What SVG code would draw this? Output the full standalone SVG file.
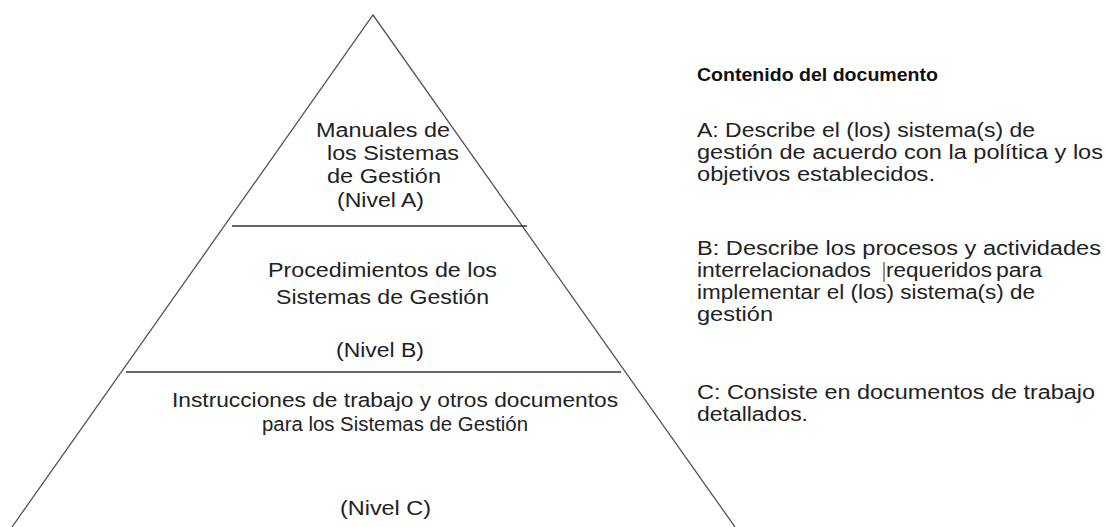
<svg xmlns="http://www.w3.org/2000/svg" width="1106" height="527" viewBox="0 0 1106 527">
<style>
.t{font-family:"Liberation Sans",Arial,sans-serif;font-size:19.5px;fill:#222}
.n{font-family:"Liberation Sans Narrow","Liberation Sans",Arial,sans-serif;font-size:20px;fill:#222}
.h{font-family:"Liberation Sans",Arial,sans-serif;font-size:18px;font-weight:bold;fill:#111}
.edge{fill:none;stroke:#555;stroke-width:1.3}
.div{stroke:#333;stroke-width:1.5}
</style>
<rect width="1106" height="527" fill="#fff"/>
<g id="connectors">
<polyline class="edge" points="12,527 373,15 735,527"/>
<line class="div" x1="232" y1="226" x2="527" y2="226"/>
<line class="div" x1="126" y1="372" x2="621" y2="372"/>
</g>
<g id="nivel-a">
<text class="t" x="316" y="137" textLength="134" lengthAdjust="spacingAndGlyphs">Manuales de</text>
<text class="t" x="327" y="160" textLength="132" lengthAdjust="spacingAndGlyphs">los Sistemas</text>
<text class="t" x="327" y="183" textLength="114" lengthAdjust="spacingAndGlyphs">de Gestión</text>
<text class="t" x="337" y="207" textLength="87" lengthAdjust="spacingAndGlyphs">(Nivel A)</text>
</g>
<g id="nivel-b">
<text class="t" x="268" y="277" textLength="229" lengthAdjust="spacingAndGlyphs">Procedimientos de los</text>
<text class="t" x="276" y="304" textLength="213" lengthAdjust="spacingAndGlyphs">Sistemas de Gestión</text>
<text class="t" x="336" y="357" textLength="88" lengthAdjust="spacingAndGlyphs">(Nivel B)</text>
</g>
<g id="nivel-c">
<text class="n" x="172" y="407" textLength="446" lengthAdjust="spacingAndGlyphs">Instrucciones de trabajo y otros documentos</text>
<text class="t" x="262" y="431" textLength="266" lengthAdjust="spacingAndGlyphs">para los Sistemas de Gestión</text>
<text class="t" x="340" y="515" textLength="91" lengthAdjust="spacingAndGlyphs">(Nivel C)</text>
</g>
<g id="contenido">
<text class="h" x="697" y="81" textLength="241" lengthAdjust="spacingAndGlyphs">Contenido del documento</text>
<text class="t" x="697" y="137" textLength="338" lengthAdjust="spacingAndGlyphs">A: Describe el (los) sistema(s) de</text>
<text class="t" x="697" y="159" textLength="406" lengthAdjust="spacingAndGlyphs">gestión de acuerdo con la política y los</text>
<text class="t" x="697" y="181" textLength="238" lengthAdjust="spacingAndGlyphs">objetivos establecidos.</text>
<text class="t" x="697" y="255" textLength="404" lengthAdjust="spacingAndGlyphs">B: Describe los procesos y actividades</text>
<text class="t" x="697" y="277" textLength="174" lengthAdjust="spacingAndGlyphs">interrelacionados</text>
<line x1="884" y1="262" x2="884" y2="282" stroke="#222" stroke-width="1"/>
<text class="t" x="886" y="277" textLength="106" lengthAdjust="spacingAndGlyphs">requeridos</text>
<text class="t" x="996" y="277" textLength="46" lengthAdjust="spacingAndGlyphs">para</text>
<text class="t" x="697" y="299" textLength="338" lengthAdjust="spacingAndGlyphs">implementar el (los) sistema(s) de</text>
<text class="t" x="697" y="321" textLength="76" lengthAdjust="spacingAndGlyphs">gestión</text>
<text class="t" x="697" y="399" textLength="398" lengthAdjust="spacingAndGlyphs">C: Consiste en documentos de trabajo</text>
<text class="t" x="697" y="421" textLength="111" lengthAdjust="spacingAndGlyphs">detallados.</text>
</g>
</svg>
